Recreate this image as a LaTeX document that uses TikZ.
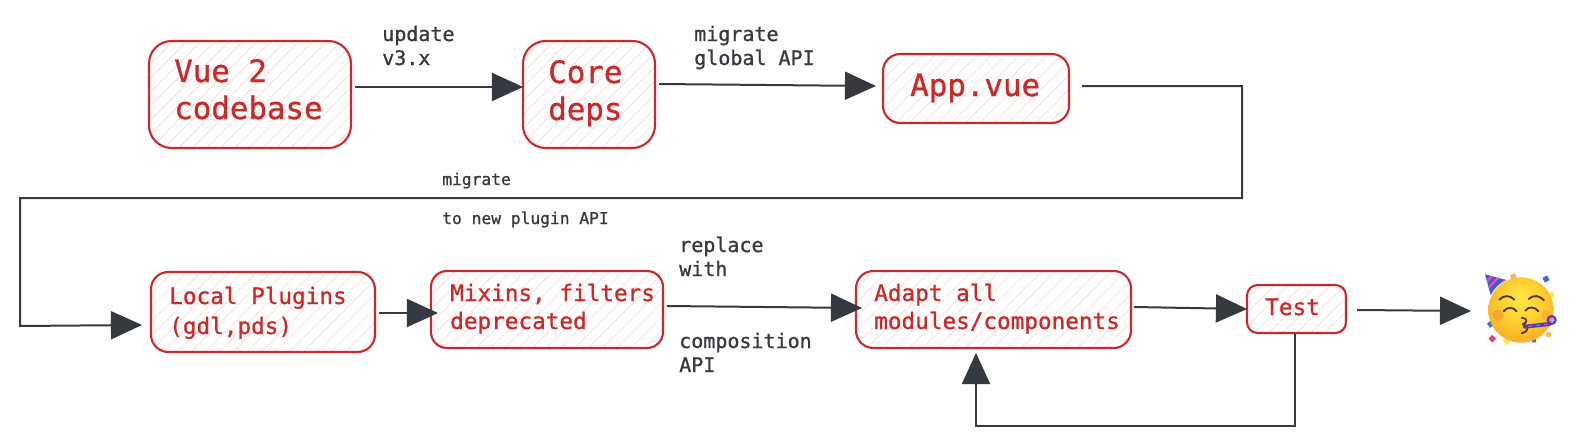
\documentclass[tikz,border=0pt]{standalone}
\usepackage{fontspec}
\setmonofont[FakeBold=1]{DejaVu Sans Mono}
\usetikzlibrary{arrows.meta,calc}
\definecolor{flowred}{HTML}{C92A2A}
\definecolor{hatchpink}{HTML}{FBE2E2}
\definecolor{ink}{HTML}{343A40}
\definecolor{CheekC}{HTML}{F2603A}
\definecolor{EyeC}{HTML}{5A3208}
\definecolor{BlowC}{HTML}{4A3FB0}
\definecolor{HatC}{HTML}{3E5BD0}
\definecolor{PinkC}{HTML}{E84FB0}
\pgfdeclareradialshading{facegrad}{\pgfpoint{0bp}{10bp}}{
  rgb(0bp)=(1,0.91,0.26);
  rgb(14bp)=(1,0.83,0.2);
  rgb(28bp)=(0.98,0.7,0.15);
  rgb(42bp)=(0.95,0.58,0.1);
  rgb(50bp)=(0.93,0.5,0.08)}
\newcommand{\twoln}[2]{\begin{tabular}[t]{@{}l@{}}#1\\#2\end{tabular}}
\tikzset{
  x=0.75pt,y=-0.75pt,
  flowbox/.style 2 args={draw=flowred,line width=1.6pt,minimum width=#1*0.75pt,minimum height=#2*0.75pt,inner sep=0pt,
    path picture={\foreach \d in {-340,-326,...,340}{\draw[hatchpink,line width=0.8pt] (\d-100,100)--(\d+100,-100);}}},
  bigtext/.style={anchor=base west,inner sep=0pt,text=flowred,font=\ttfamily\fontsize{23.1pt}{27.75pt}\selectfont},
  midtext/.style={anchor=base west,inner sep=0pt,text=flowred,font=\ttfamily\fontsize{17pt}{21pt}\selectfont},
  edgetext/.style={anchor=base west,inner sep=0pt,text=ink,font=\ttfamily\fontsize{15pt}{18pt}\selectfont},
  smalltext/.style={anchor=base west,inner sep=0pt,text=ink,font=\ttfamily\fontsize{12.2pt}{29.25pt}\selectfont},
  conn/.style={draw=ink,line width=1.5pt,shorten >=-1.6pt,-{Triangle[length=23.35pt,width=21pt]}},
}
\begin{document}
\begin{tikzpicture}
\useasboundingbox (0,0) rectangle (1578,446);
% boxes
\node[flowbox={202}{107},rounded corners=17pt] (vue) at (250,94.5) {};
\node[flowbox={132}{107},rounded corners=17pt] (core) at (589,94.5) {};
\node[flowbox={186}{69},rounded corners=13pt] (app) at (976,88.5) {};
\node[flowbox={224}{80},rounded corners=13pt] (local) at (263,312) {};
\node[flowbox={232}{77},rounded corners=12pt] (mixins) at (547,309.5) {};
\node[flowbox={275}{77},rounded corners=13pt] (adapt) at (993.5,309.5) {};
\node[flowbox={99}{48},rounded corners=8pt] (test) at (1296.5,309) {};
% box texts
\node[bigtext] (vueT) at (174,82) {\twoln{Vue 2}{codebase}};
\node[bigtext] (coreT) at (548,83) {\twoln{Core}{deps}};
\node[bigtext] (appT) at (910,96) {App.vue};
\node[midtext,font=\ttfamily\fontsize{17pt}{22.5pt}\selectfont] (localT) at (169,304) {\twoln{Local Plugins}{(gdl,pds)}};
\node[midtext] (mixinsT) at (450,301) {\twoln{Mixins, filters}{deprecated}};
\node[midtext] (adaptT) at (874,301) {\twoln{Adapt all}{modules/components}};
\node[midtext] (testT) at (1265,315) {Test};
% edge labels
\node[edgetext] (l1) at (382,41) {\twoln{update}{v3.x}};
\node[edgetext] (l2) at (694,41) {\twoln{migrate}{global API}};
\node[smalltext] (l3) at (442,185) {\twoln{migrate}{to new plugin API}};
\node[edgetext] (l4) at (679,252) {\twoln{replace}{with}};
\node[edgetext] (l5) at (679,348) {\twoln{composition}{API}};
% connector bends
\coordinate (party) at (1488,310);
\coordinate (b1) at (1242,86);
\coordinate (b2) at (1242,198);
\coordinate (b3) at (20,198);
\coordinate (b4) at (20,326);
\coordinate (b5) at (1295,426);
\coordinate (b6) at (976,426);
% connectors
\draw[conn] ([shift={(3,-7.5)}]vue.east) -- ([shift={(-1,-7.5)}]core.west);
\draw[conn] ([shift={(3,-10.5)}]core.east) -- ([shift={(-8,-2.5)}]app.west);
\draw[conn,line join=miter] ([shift={(12,-2.5)}]app.east) -- (b1) -- (b2) -- (b3) -- (b4) -- ([shift={(-10,13)}]local.west);
\draw[conn] ([shift={(3,1)}]local.east) -- ([shift={(6,3.5)}]mixins.west);
\draw[conn] ([shift={(3,-3.5)}]mixins.east) -- ([shift={(5,-1.5)}]adapt.west);
\draw[conn] ([shift={(2,-2.5)}]adapt.east) -- ([shift={(-1,0)}]test.west);
\draw[conn] ([shift={(10,1)}]test.east) -- ([shift={(-19,1)}]party);
\draw[conn,line join=miter] ([shift={(-1.5,0)}]test.south) -- (b5) -- (b6) -- ([shift={(-17.5,6)}]adapt.south);
% party face emoji, in units of a 3x view of the emoji region
\begin{scope}[shift={(1470,265)},x=0.25pt,y=-0.25pt]
  % confetti
  \foreach \cx/\cy/\cc/\cr/\ca in {130/35/F4B266/8/20,177/55/E0406A/8/25,228/42/3E6FD8/8/30,244/90/FFE45C/8/15,62/177/3E6FD8/8/40,67/221/E0406A/8/45,110/230/FFE45C/8/35,192/226/3E6FD8/6/10,236/209/F4B266/7/15}{
    \definecolor{cf}{HTML}{\cc}
    \fill[cf,rotate around={\ca:(\cx,\cy)}] (\cx-\cr,\cy-\cr) rectangle (\cx+\cr,\cy+\cr);
  }
  % face
  \shade[shading=facegrad] (153,135) circle[radius=98];
  % cheeks
  \fill[CheekC,opacity=0.3] (85,150) circle[radius=17];
  \fill[CheekC,opacity=0.18] (228,150) circle[radius=14];
  % eyebrows and closed eyes
  \draw[draw=EyeC,line width=1.4pt,line cap=round] (88,104) .. controls (100,90) and (120,90) .. (133,104);
  \draw[draw=EyeC,line width=1.4pt,line cap=round] (176,102) .. controls (190,88) and (210,92) .. (222,106);
  \draw[draw=EyeC,line width=1.4pt,line cap=round] (101,139) .. controls (110,125) and (130,125) .. (140,139);
  \draw[draw=EyeC,line width=1.4pt,line cap=round] (166,137) .. controls (175,123) and (196,125) .. (205,139);
  % lips
  \draw[draw=EyeC,line width=1.3pt,line cap=round,line join=round] (155,158) .. controls (172,160) and (175,172) .. (158,178) .. controls (178,184) and (178,198) .. (155,205);
  % blower
  \draw[draw=BlowC,line width=3pt,line cap=round] (165,185) -- (238,177);
  \draw[draw=PinkC,line width=0.8pt,dashed] (175,184) -- (236,177);
  \draw[draw=BlowC,line width=1.5pt] (245,165) circle[radius=12];
  \draw[draw=PinkC,line width=0.8pt] (245,165) circle[radius=6];
  % hat
  \fill[HatC] (45,28) -- (62,90) .. controls (72,70) and (90,53) .. (108,45) -- cycle;
  \begin{scope}
    \clip (45,28) -- (62,90) .. controls (72,70) and (90,53) .. (108,45) -- cycle;
    \draw[draw=PinkC,line width=1.6pt] (48,52) -- (72,28);
    \draw[draw=PinkC,line width=1.6pt] (52,72) -- (92,30);
    \draw[draw=PinkC,line width=1.6pt] (60,92) -- (110,40);
  \end{scope}
\end{scope}
\end{tikzpicture}
\end{document}
